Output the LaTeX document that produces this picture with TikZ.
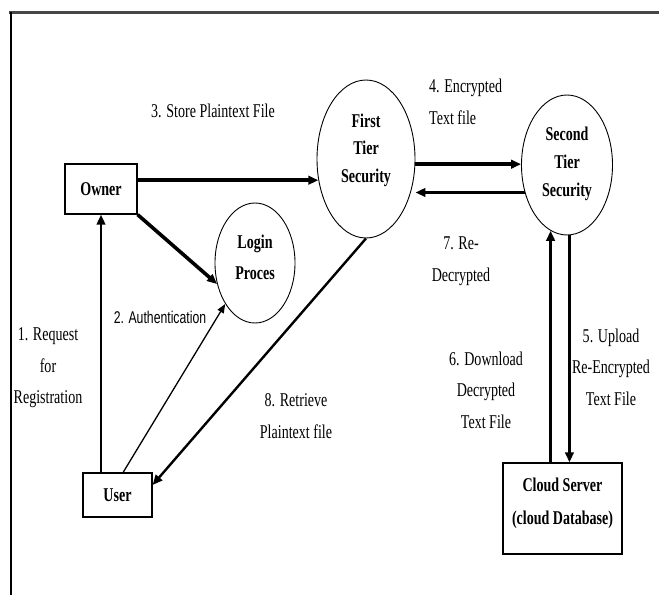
\documentclass[tikz,border=0pt]{standalone}
\usepackage{fontspec}
\setmainfont[FakeStretch=0.72]{Liberation Serif}
\newfontfamily\authfont[FakeStretch=0.72]{Liberation Sans}
\usetikzlibrary{shapes.geometric,arrows.meta}

\tikzset{
  lbl/.style={align=center,inner sep=0pt,font=\fontsize{19.5}{31.5}\selectfont},
  boxtxt/.style={align=center,inner sep=0pt,font=\bfseries\fontsize{19.5}{33}\selectfont},
  box/.style={draw,line width=1.3pt,rectangle,inner sep=0pt,align=center,
              font=\bfseries\fontsize{19.5}{33}\selectfont},
  tier/.style={draw,line width=0.9pt,ellipse,inner sep=0pt},
  tip/.style={-{Triangle[length=10pt,width=8.5pt]}},
  heavy/.style={tip,line width=3.6pt},
  medium/.style={tip,line width=2.4pt},
  light/.style={-{Triangle[length=9pt,width=7pt]},line width=1.3pt},
}

\begin{document}
\begin{tikzpicture}[x=1pt,y=-1pt]
\useasboundingbox (0,0) rectangle (659,595);

% page frame (top and left rules)
\draw[line width=2.2pt,black!72] (9,12.5) -- (659,12.5);
\draw[line width=1.2pt] (11,12) -- (11,595);

% entities
\node[box,minimum width=72pt,minimum height=50pt] (owner) at (101,189) {Owner};
\node[box,minimum width=69pt,minimum height=44pt] (user) at (117.5,495) {User};
\node[box,minimum width=119pt,minimum height=91pt] (cloud) at (562.5,508.5) {};
\node[boxtxt] (cloudtxt) at (562.5,503.5) {Cloud Server\\(cloud Database)};

% processes
\node[tier,minimum width=80pt,minimum height=120pt] (login) at (255,263) {};
\node[boxtxt,font=\bfseries\fontsize{19.5}{31}\selectfont] (logintxt) at (255,257.5) {Login\\Proces};
\node[tier,minimum width=98pt,minimum height=158pt] (first) at (366,159) {};
\node[boxtxt,font=\bfseries\fontsize{19.5}{27.5}\selectfont] (firsttxt) at (366,150) {First\\Tier\\Security};
\node[tier,minimum width=91pt,minimum height=140pt] (second) at (567,165) {};
\node[boxtxt,font=\bfseries\fontsize{19.5}{28}\selectfont] (secondtxt) at (567,164) {Second\\Tier\\Security};

% flows
\draw[medium] (owner.south |- user.north) -- (owner.south);
\draw[heavy] (owner.east |- first.204) -- (first.204);
\draw[heavy] (owner.south east) -- (login.209);
\draw[light] (user.76) -- (login.234);
\draw[heavy] (first.354) -- (first.354 -| second.west);
\draw[heavy] (second.213) -- (second.213 -| first.east);
\draw[medium] (second.272) -- (second.272 |- cloud.north);
\draw[medium] (second.256 |- cloud.north) -- (second.256);
\draw[medium] (first.south) -- (user.16);

% flow labels
\node[lbl] (l1) at (48,368) {1. Request\\for\\Registration};
\node[lbl,font=\authfont\fontsize{17}{20}\selectfont] (l2) at (160,317) {2. Authentication};
\node[lbl] (l3) at (213,111) {3. Store Plaintext File};
\node[lbl,align=left,anchor=west] (l4) at (429,102) {4. Encrypted\\Text file};
\node[lbl] (l5) at (611,367) {5. Upload\\Re-Encrypted\\Text File};
\node[lbl] (l6) at (486,390) {6. Download\\Decrypted\\Text File};
\node[lbl] (l7) at (461,261) {7. Re-\\Decrypted};
\node[lbl] (l8) at (296,416) {8. Retrieve\\Plaintext file};
\end{tikzpicture}
\end{document}
